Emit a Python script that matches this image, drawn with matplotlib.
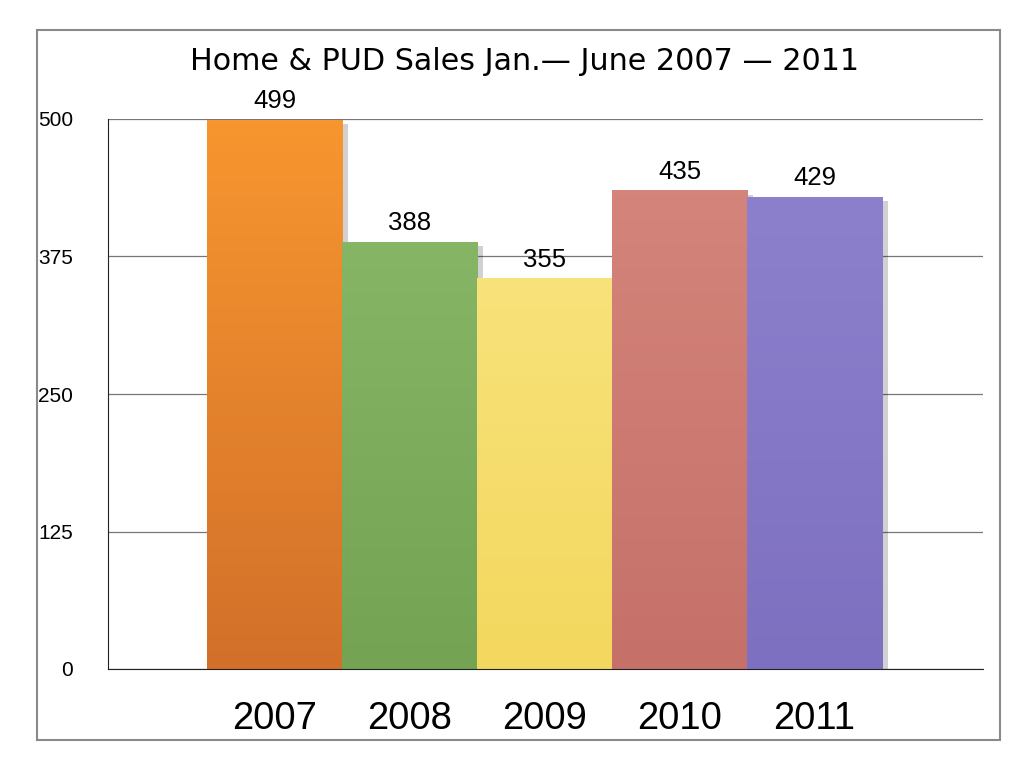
import numpy as np
import matplotlib
matplotlib.use("Agg")
import matplotlib.pyplot as plt
import matplotlib.patheffects as pe
from matplotlib.patches import Rectangle

years = ["2007", "2008", "2009", "2010", "2011"]
sales = [499, 388, 355, 435, 429]
colors_top = ["#F7962F", "#86B566", "#F8E27A", "#D4847A", "#8C80CC"]
colors_bottom = ["#D2702A", "#73A353", "#F3D75E", "#C5716A", "#7E70C0"]
y_ticks = [0, 125, 250, 375, 500]
title = "Home & PUD Sales Jan.\u2014 June 2007 \u2014 2011"

fig = plt.figure(figsize=(10.24, 7.58), dpi=100)
ax = fig.add_axes([108/1024, 1-669/758, (983-108)/1024, 550/758])

x = np.arange(len(years))
bars = ax.bar(x, sales, width=1.0, color=colors_top, edgecolor="#6b5a4a",
              linewidth=0.6, zorder=3)

# soft shadow + vertical gradient per bar
for b, c1, c2 in zip(bars, colors_top, colors_bottom):
    b.set_path_effects([pe.SimplePatchShadow(offset=(4, -3), alpha=0.18, shadow_rgbFace="k"),
                        pe.Normal()])
    x0, w, h = b.get_x(), b.get_width(), b.get_height()
    c1r = np.array(matplotlib.colors.to_rgb(c1))
    c2r = np.array(matplotlib.colors.to_rgb(c2))
    t = np.linspace(0, 1, 100)[:, None]
    grad = (c1r * (1 - t) + c2r * t)[:, None, :]
    im = ax.imshow(grad, extent=[x0, x0 + w, 0, h], aspect="auto", zorder=3.5,
                   origin="upper")
    im.set_clip_path(b)

for xi, v in zip(x, sales):
    ax.annotate(str(v), (xi, v), xytext=(0, 5), textcoords="offset points",
                ha="center", va="bottom", fontsize=18.5, family="Liberation Sans",
                zorder=5)

ax.set_xlim(-1.233, 5.248)
ax.set_ylim(0, 500)
ax.set_yticks(y_ticks)
ax.set_yticklabels([str(v) for v in y_ticks], family="Liberation Sans", fontsize=15)
ax.set_xticks(x)
ax.set_xticklabels(years, family="Liberation Sans", fontsize=27.5)
ax.tick_params(axis="x", length=0, pad=23)
ax.tick_params(axis="y", length=0, pad=25)
ax.yaxis.grid(True, color="#777777", linewidth=0.9, zorder=0)
ax.set_axisbelow(True)
for s in ["top", "right"]:
    ax.spines[s].set_visible(False)
ax.spines["left"].set_color("#222222")
ax.spines["bottom"].set_color("#222222")
ax.spines["bottom"].set_zorder(4)

fig.text(525/1024, 1-62/758, title, ha="center", va="center", fontsize=21.7,
         family="DejaVu Sans")

fig.patches.append(Rectangle((37/1024, 1-740/758), (1000-37)/1024, (740-30)/758,
                             transform=fig.transFigure, fill=False,
                             edgecolor="#8a8a8a", linewidth=1.5))

fig.savefig("out.png", dpi=100)
